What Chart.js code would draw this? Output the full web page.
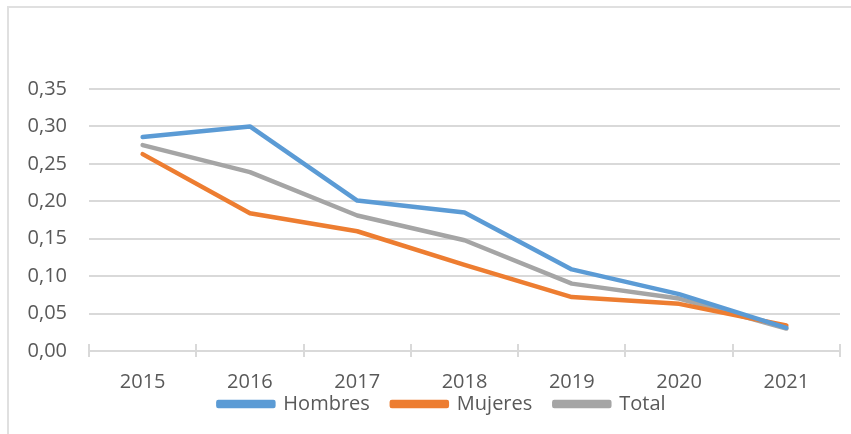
<!DOCTYPE html>
<html>
<head>
<meta charset="utf-8">
<script src="https://cdn.jsdelivr.net/npm/chart.js@4/dist/chart.umd.min.js"></script>
<style>
  html, body { margin: 0; padding: 0; background: #ffffff; }
  #wrap { position: relative; width: 851px; height: 434px; overflow: hidden; }
  #frame { position: absolute; left: 7px; top: 6px; width: 900px; height: 500px; border: 2px solid #e0e0e0; box-sizing: border-box; }
  canvas { position: absolute; left: 0; top: 0; }
</style>
</head>
<body>
<div id="wrap">
  <div id="frame"></div>
  <canvas id="c" width="851" height="434"></canvas>
</div>
<script>
const years = ['2015', '2016', '2017', '2018', '2019', '2020', '2021'];
const hombres = [0.286, 0.300, 0.201, 0.185, 0.109, 0.076, 0.031];
const mujeres = [0.263, 0.184, 0.160, 0.115, 0.072, 0.063, 0.034];
const total   = [0.275, 0.239, 0.181, 0.148, 0.090, 0.070, 0.030];
const seriesNames = ['Hombres', 'Mujeres', 'Total'];
const yTicks = [0, 0.05, 0.10, 0.15, 0.20, 0.25, 0.30, 0.35];

const colors = ['#5B9BD5', '#ED7D31', '#A5A5A5'];
const font = { family: 'Open Sans', size: 20 };
const noClip = () => undefined;

// tick marks that cross the category axis line (as in the reference)
const crossTicks = {
  id: 'crossTicks',
  afterDatasetsDraw(chart) {
    const x = chart.scales.x, y = chart.scales.y;
    const base = y.getPixelForValue(0);
    const ctx = chart.ctx;
    ctx.save();
    ctx.strokeStyle = '#d9d9d9';
    ctx.lineWidth = 2;
    for (let i = 0; i <= years.length; i++) {
      const px = Math.round(x.getPixelForValue(i - 0.5));
      ctx.beginPath();
      ctx.moveTo(px, base - 7);
      ctx.lineTo(px, base + 6);
      ctx.stroke();
    }
    ctx.restore();
  }
};

new Chart(document.getElementById('c'), {
  type: 'line',
  data: {
    labels: years,
    datasets: [hombres, mujeres, total].map((d, i) => ({
      label: seriesNames[i],
      data: d,
      borderColor: colors[i],
      backgroundColor: colors[i],
      borderWidth: 4.5,
      pointRadius: 0,
      tension: 0,
      borderJoinStyle: 'round',
      borderCapStyle: 'round'
    }))
  },
  plugins: [crossTicks],
  options: {
    responsive: false,
    animation: false,
    layout: { padding: { left: 44, right: 11, top: 89, bottom: 10 } },
    plugins: {
      legend: {
        position: 'bottom',
        labels: {
          font: font,
          color: '#595959',
          boxWidth: 55,
          boxHeight: 4,
          padding: 22
        }
      },
      tooltip: { enabled: false }
    },
    scales: {
      x: {
        offset: true,
        afterFit: (s) => { s.height = 21; s._computeLabelArea = noClip; },
        grid: {
          offset: true,
          display: true,
          drawOnChartArea: false,
          drawTicks: false,
          color: '#d9d9d9',
          lineWidth: 2
        },
        border: { color: '#d9d9d9', width: 2 },
        ticks: { font: font, color: '#595959', padding: 19 }
      },
      y: {
        min: 0,
        max: 0.35,
        afterBuildTicks: (s) => { s.ticks = yTicks.map(v => ({ value: v })); },
        afterFit: (s) => { s.width = 45; s._computeLabelArea = noClip; },
        grid: { color: '#d9d9d9', lineWidth: 2, drawTicks: false },
        border: { display: false },
        ticks: {
          font: font,
          color: '#595959',
          padding: 22,
          callback: (v) => Number(v).toFixed(2).replace('.', ',')
        }
      }
    }
  }
});
</script>
</body>
</html>
